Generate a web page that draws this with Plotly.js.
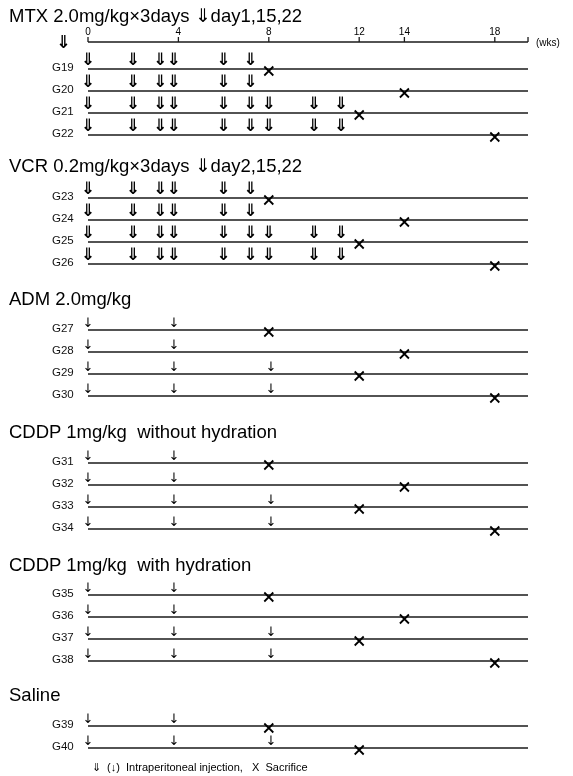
<!DOCTYPE html>
<html><head><meta charset="utf-8">
<script src="https://cdn.plot.ly/plotly-3.0.1.min.js"></script>
<style>body{margin:0;background:#fff}#chart{width:573px;height:776px;filter:grayscale(100%)}</style>
</head><body><div id="chart"></div>
<script>
// ---- data ----
const weekTicks = [0, 4, 8, 12, 14, 18];
const weekTickLabels = ["0", "4", "8", "12", "14", "18"];
const weekEnd = 19.47;
const sectionTitles = [
  "MTX 2.0mg/kg×3days \u21D3day1,15,22",
  "VCR 0.2mg/kg×3days \u21D3day2,15,22",
  "ADM 2.0mg/kg",
  "CDDP 1mg/kg  without hydration",
  "CDDP 1mg/kg  with hydration",
  "Saline"
];
const groupLabels = ["G19","G20","G21","G22","G23","G24","G25","G26","G27","G28","G29","G30",
  "G31","G32","G33","G34","G35","G36","G37","G38","G39","G40"];
const groupSection = [0,0,0,0,1,1,1,1,2,2,2,2,3,3,3,3,4,4,4,4,5,5];
const bigInjections = [
  [0,2,3.2,3.8,6,7.2],[0,2,3.2,3.8,6,7.2],[0,2,3.2,3.8,6,7.2,8,10,11.2],[0,2,3.2,3.8,6,7.2,8,10,11.2],
  [0,2,3.2,3.8,6,7.2],[0,2,3.2,3.8,6,7.2],[0,2,3.2,3.8,6,7.2,8,10,11.2],[0,2,3.2,3.8,6,7.2,8,10,11.2],
  [],[],[],[], [],[],[],[], [],[],[],[], [],[]
];
const smallInjections = [
  [],[],[],[], [],[],[],[],
  [0,3.8],[0,3.8],[0,3.8,8.1],[0,3.8,8.1],
  [0,3.8],[0,3.8],[0,3.8,8.1],[0,3.8,8.1],
  [0,3.8],[0,3.8],[0,3.8,8.1],[0,3.8,8.1],
  [0,3.8],[0,3.8,8.1]
];
const sacrificeWeeks = [8,14,12,18, 8,14,12,18, 8,14,12,18, 8,14,12,18, 8,14,12,18, 8,12];

// ---- layout geometry (pixels) ----
const W = 573, H = 776;
const x0px = 88, pxPerWeek = 22.6;
const titleY = [15, 165, 298, 431, 564, 694];
const firstRowY = [69, 198, 330, 463, 595, 726];
const rowGap = 22;
const axisY = 42;

const rowY = [];
const counters = [0,0,0,0,0,0];
groupSection.forEach((s) => { rowY.push(firstRowY[s] + rowGap * counters[s]); counters[s]++; });

// row lines + top time axis (drawn through the x scale)
const lx = [], ly = [];
rowY.forEach(y => { lx.push(0, weekEnd, null); ly.push(y, y, null); });
lx.push(0, weekEnd, null); ly.push(axisY, axisY, null);
weekTicks.concat([weekEnd]).forEach(w => { lx.push(w, w, null); ly.push(axisY, axisY - 5, null); });

const bx = [], by = [], sx = [], sy = [], xx = [], xy = [];
rowY.forEach((y, i) => {
  bigInjections[i].forEach(w => { bx.push(w); by.push(y - 8); });
  smallInjections[i].forEach(w => { sx.push(w); sy.push(y - 6); });
  xx.push(sacrificeWeeks[i]); xy.push(y + 2);
});

const BLACK = '#000000';
const traces = [
  {x: lx, y: ly, mode: 'lines', line: {color: '#1a1a1a', width: 1.3}, hoverinfo: 'skip', showlegend: false},
  {x: weekTicks, y: weekTicks.map(() => axisY - 10), mode: 'text', text: weekTickLabels,
   textposition: 'middle center', textfont: {family: 'Liberation Sans, Arial', size: 10, color: BLACK},
   hoverinfo: 'skip', showlegend: false},
  {x: bx, y: by, mode: 'text', text: bx.map(() => '\u21D3'), textposition: 'middle center',
   textfont: {family: 'DejaVu Sans', size: 17, color: BLACK, weight: 'bold'},
   hoverinfo: 'skip', showlegend: false},
  {x: sx, y: sy, mode: 'text', text: sx.map(() => '\u2193'), textposition: 'middle center',
   textfont: {family: 'DejaVu Sans', size: 13, color: BLACK},
   hoverinfo: 'skip', showlegend: false},
  {x: xx, y: xy, mode: 'markers', marker: {symbol: 'x-thin-open', size: 9, color: BLACK,
   line: {color: BLACK, width: 1.8}}, hoverinfo: 'skip', showlegend: false}
];

const annotations = [];
sectionTitles.forEach((t, i) => annotations.push({
  text: t, x: 7 / W, xref: 'paper', xanchor: 'left', y: titleY[i], yref: 'y', yanchor: 'middle',
  showarrow: false, font: {family: 'Liberation Sans, Arial', size: 18.5, color: '#000'}
}));
groupLabels.forEach((g, i) => annotations.push({
  text: g, x: 76 / W, xref: 'paper', xanchor: 'right', y: rowY[i] - 2, yref: 'y', yanchor: 'middle',
  showarrow: false, font: {family: 'Liberation Sans, Arial', size: 11.5, color: '#111'}
}));
annotations.push({text: '\u21D3', x: 63 / W, xref: 'paper', xanchor: 'center', y: axisY - 1, yref: 'y',
  yanchor: 'middle', showarrow: false, font: {family: 'DejaVu Sans', size: 18, color: '#000', weight: 'bold'}});
annotations.push({text: '(wks)', x: 534 / W, xref: 'paper', xanchor: 'left', y: axisY, yref: 'y',
  yanchor: 'middle', showarrow: false, font: {family: 'Liberation Sans, Arial', size: 10, color: '#000'}});
annotations.push({text: '\u21D3  (\u2193)  Intraperitoneal injection,   X  Sacrifice', x: 90 / W, xref: 'paper',
  xanchor: 'left', y: 767, yref: 'y', yanchor: 'middle', showarrow: false,
  font: {family: 'Liberation Sans, Arial', size: 11, color: '#000'}});

const layout = {
  width: W, height: H, margin: {l: 0, r: 0, t: 0, b: 0},
  paper_bgcolor: '#fff', plot_bgcolor: '#fff', showlegend: false,
  xaxis: {range: [-x0px / pxPerWeek, (W - x0px) / pxPerWeek], visible: false, fixedrange: true},
  yaxis: {range: [H, 0], visible: false, fixedrange: true},
  annotations: annotations
};

Plotly.newPlot('chart', traces, layout, {staticPlot: true, displayModeBar: false});
</script>
</body></html>
